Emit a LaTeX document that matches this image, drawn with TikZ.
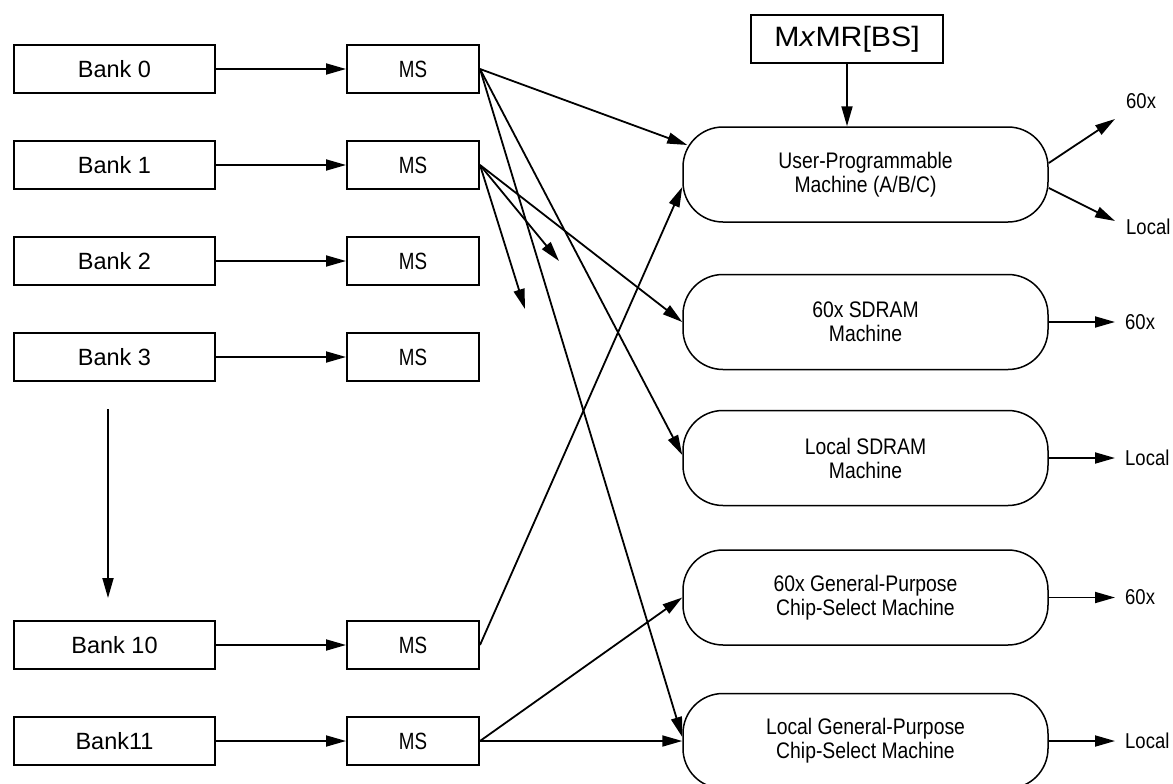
\documentclass[tikz,border=0pt]{standalone}
\usepackage{fontspec}
\setmainfont{Liberation Sans}
\newfontfamily\narrowfont[FakeStretch=0.86]{Liberation Sans}
\newfontfamily\msfont[FakeStretch=0.80]{Liberation Sans}
\newfontfamily\widefont[FakeStretch=1.08]{Liberation Sans}
\usetikzlibrary{arrows.meta,calc}
\begin{document}
\begin{tikzpicture}[x=1pt,y=-1pt,
  box/.style={draw,line width=2pt,minimum height=48pt,inner sep=0pt},
  bankbox/.style={box,minimum width=201pt,font=\fontsize{23.5}{26}\selectfont},
  msbox/.style={box,minimum width=132pt,font=\msfont\fontsize{23.5}{26}\selectfont},
  machine/.style={draw,line width=1.5pt,rounded corners=40pt,minimum width=365pt,minimum height=95pt,align=center,inner sep=0pt,font=\narrowfont\fontsize{22.5}{24}\selectfont},
  conn/.style={line width=1.8pt,-{Triangle[length=20pt,width=11pt]}},
  outlbl/.style={inner sep=0pt,anchor=west,font=\narrowfont\fontsize{21.5}{24}\selectfont}
]
\useasboundingbox (0,0) rectangle (1173,784);

% bank boxes
\node[bankbox] (b0) at (114.5,69) {Bank 0};
\node[bankbox] (b1) at (114.5,165) {Bank 1};
\node[bankbox] (b2) at (114.5,261) {Bank 2};
\node[bankbox] (b3) at (114.5,357) {Bank 3};
\node[bankbox] (b10) at (114.5,645) {Bank 10};
\node[bankbox] (b11) at (114.5,741) {Bank11};

% MS boxes
\node[msbox] (m0) at (413,69) {MS};
\node[msbox] (m1) at (413,165) {MS};
\node[msbox] (m2) at (413,261) {MS};
\node[msbox] (m3) at (413,357) {MS};
\node[msbox] (m10) at (413,645) {MS};
\node[msbox] (m11) at (413,741) {MS};

\foreach \i in {0,1,2,3,10,11} \draw[conn] (b\i.east) -- (m\i.west);

\draw[conn] ([xshift=-6.5pt,yshift=-27pt]b3.south) -- ([xshift=-6.5pt,yshift=22pt]b10.north);

% machines
\node[machine] (upm) at (865.5,174.5) {User-Programmable\\Machine (A/B/C)};
\node[machine] (sd60) at (865.5,322) {60x SDRAM\\Machine};
\node[machine] (sdl) at (865.5,458) {Local SDRAM\\Machine};
\node[machine] (gp60) at (865.5,597.5) {60x General-Purpose\\Chip-Select Machine};
\node[machine] (gpl) at (865.5,741) {Local General-Purpose\\Chip-Select Machine};

% MxMR
\node[box,minimum width=192pt,font=\widefont\fontsize{28}{30}\selectfont] (mx) at (847,39) {M\textit{x}MR[BS]};
\draw[conn] (mx.south) -- (mx.south |- upm.north);

% connectors from MS
\draw[conn] (m0.east) -- ($(upm.west)+(5,-29.5)$);
\draw[conn] (m0.east) -- ($(sdl.west)+(0,-3)$);
\draw[conn] (m0.east) -- ($(gpl.west)+(0,-4)$);
\coordinate (f1) at (559,261);
\coordinate (f2) at (525,309);
\draw[conn] (m1.east) -- (sd60.west);
\draw[conn] (m1.east) -- (f1);
\draw[conn] (m1.east) -- (f2);
\draw[conn] (m10.east) -- ($(upm.west)+(0,12.5)$);
\draw[conn] (m11.east) -- (gp60.west);
\draw[conn] (m11.east) -- (gpl.west);

% outputs
\coordinate (t1) at (1115,119);
\coordinate (t2) at (1115,221);
\node[outlbl] (l1) at (1126,101) {60x};
\node[outlbl] (l2) at (1126,227) {Local};
\draw[conn] ($(upm.east)+(0,-11.5)$) -- (t1);
\draw[conn] ($(upm.east)+(0,13.5)$) -- (t2);

\node[outlbl] (l3) at (1125,322) {60x};
\node[outlbl] (l4) at (1125,458) {Local};
\node[outlbl] (l5) at (1125,597.5) {60x};
\node[outlbl] (l6) at (1125,741) {Local};
\draw[conn] (sd60.east) -- ([xshift=-10pt]l3.west);
\draw[conn] (sdl.east) -- ([xshift=-10pt]l4.west);
\draw[conn] (gp60.east) -- ([xshift=-10pt]l5.west);
\draw[conn] (gpl.east) -- ([xshift=-10pt]l6.west);
\end{tikzpicture}
\end{document}
